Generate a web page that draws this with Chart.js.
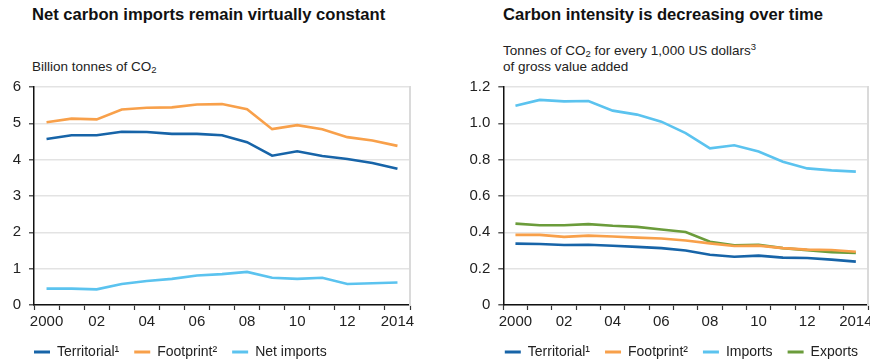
<!DOCTYPE html>
<html>
<head>
<meta charset="utf-8">
<script src="https://cdn.jsdelivr.net/npm/chart.js@4"></script>
<style>
  html, body { margin: 0; padding: 0; width: 870px; height: 363px; overflow: hidden; background: #fff;
    font-family: "Liberation Sans", Arial, sans-serif; color: #1a1a1a; }
  .title { position: absolute; font-weight: bold; font-size: 16.6px; line-height: 20px; white-space: nowrap; color: #111; }
  .sub { position: absolute; font-size: 13.5px; line-height: 16px; white-space: nowrap; color: #222; }
  sub { font-size: 9.5px; vertical-align: -2px; line-height: 0; }
  sup { font-size: 9.5px; vertical-align: 5px; line-height: 0; }
  canvas { position: absolute; }
</style>
</head>
<body>
<div class="title" style="left:32px;top:5px">Net carbon imports remain virtually constant</div>
<div class="sub" style="left:32px;top:59px">Billion tonnes of CO<sub>2</sub></div>
<div class="title" style="left:503px;top:5px">Carbon intensity is decreasing over time</div>
<div class="sub" style="left:503px;top:43px">Tonnes of CO<sub>2</sub> for every 1,000 US dollars<sup>3</sup><br>of gross value added</div>

<canvas id="emissions" width="435" height="299" style="left:0;top:70px"></canvas>
<canvas id="intensity" width="460" height="299" style="left:435px;top:70px"></canvas>

<script>
// Years and the labels shown under the x axis
const years = ['2000','2001','2002','2003','2004','2005','2006','2007','2008','2009','2010','2011','2012','2013','2014'];
const yearTicks = ['2000','','02','','04','','06','','08','','10','','12','','2014'];

// Emissions, billion tonnes of CO2
const territorial = [4.57, 4.67, 4.67, 4.77, 4.76, 4.71, 4.71, 4.67, 4.48, 4.11, 4.23, 4.10, 4.02, 3.91, 3.75];
const footprint   = [5.03, 5.13, 5.11, 5.38, 5.43, 5.44, 5.52, 5.53, 5.39, 4.84, 4.95, 4.84, 4.62, 4.53, 4.38];
const netImports  = [0.45, 0.45, 0.43, 0.58, 0.66, 0.72, 0.81, 0.85, 0.91, 0.75, 0.72, 0.75, 0.58, 0.60, 0.62];
const emissionTicks = ['0','1','2','3','4','5','6'];

// Carbon intensity, tonnes of CO2 per 1,000 US dollars of gross value added
const territorialIntensity = [0.338, 0.336, 0.330, 0.332, 0.326, 0.320, 0.313, 0.300, 0.277, 0.266, 0.272, 0.261, 0.259, 0.250, 0.239];
const footprintIntensity   = [0.386, 0.386, 0.375, 0.382, 0.377, 0.371, 0.366, 0.355, 0.339, 0.325, 0.327, 0.313, 0.305, 0.303, 0.293];
const importsIntensity     = [1.097, 1.129, 1.121, 1.123, 1.070, 1.048, 1.009, 0.946, 0.862, 0.879, 0.845, 0.789, 0.752, 0.741, 0.734];
const exportsIntensity     = [0.448, 0.439, 0.439, 0.445, 0.436, 0.430, 0.416, 0.402, 0.348, 0.329, 0.331, 0.313, 0.302, 0.291, 0.286];
const intensityTicks = ['0','0.2','0.4','0.6','0.8','1.0','1.2'];

const COLORS = { territorial: '#1764a8', footprint: '#f8a04a', imports: '#5bc3ef', exports: '#6b9c3b' };

Chart.defaults.font.family = "'Liberation Sans', Arial, sans-serif";
Chart.defaults.color = '#222';

// Starts the legend row flush with the left edge of the plot area
const legendAlign = {
  id: 'legendAlign',
  afterLayout(chart, args, opts) {
    const lg = chart.legend;
    if (!lg) return;
    const w = lg.right - lg.left;
    lg.left = chart.chartArea.left - lg.options.labels.padding + (opts.offset || 0);
    lg.right = lg.left + w;
  }
};
Chart.register(legendAlign);

function line(label, data, color) {
  return { label, data, borderColor: color, backgroundColor: color, borderWidth: 2.6,
           pointRadius: 0, pointHoverRadius: 0, tension: 0, fill: false };
}

function buildOptions(cfg) {
  return {
    responsive: false,
    animation: false,
    layout: { padding: { left: 0, top: 11, right: 0, bottom: 0 } },
    plugins: {
      tooltip: { enabled: false },
      legendAlign: { offset: cfg.legendOffset },
      legend: {
        position: 'bottom',
        align: 'start',
        labels: {
          boxWidth: 16, boxHeight: 3, padding: 15, color: '#222', font: { size: 14 },
          generateLabels: chart => Chart.defaults.plugins.legend.labels.generateLabels(chart)
            .map(item => Object.assign(item, { lineWidth: 0, fillStyle: item.strokeStyle }))
        }
      }
    },
    scales: {
      x: {
        offset: true,
        grid: { offset: true, drawOnChartArea: false, tickColor: '#333', tickLength: 5, tickWidth: 1.2 },
        border: { color: '#111', width: 1.5 },
        ticks: { autoSkip: false, maxRotation: 0, padding: 3, font: { size: 15 }, color: '#222',
                 callback: (v, i) => yearTicks[i] },
        afterFit: s => { s.height = 25; }
      },
      y: {
        min: 0, max: cfg.max,
        grid: { color: '#e3e3e3', lineWidth: 1.6, tickColor: '#333', tickLength: 5, tickWidth: 1.2 },
        border: { color: '#111', width: 1.5 },
        ticks: { stepSize: cfg.step, padding: 8, font: { size: 15 }, color: '#222',
                 callback: (v, i) => cfg.tickLabels[i] },
        afterFit: s => { s.width = cfg.axisWidth; }
      },
      frame: {
        position: 'right',
        grid: { drawOnChartArea: false, drawTicks: false },
        border: { color: '#dadada', width: 2 },
        ticks: { display: false },
        afterFit: s => { s.width = cfg.rightGap; }
      }
    }
  };
}

new Chart(document.getElementById('emissions'), {
  type: 'line',
  data: {
    labels: years,
    datasets: [
      line('Territorial\u00B9', territorial, COLORS.territorial),
      line('Footprint\u00B2', footprint, COLORS.footprint),
      line('Net imports', netImports, COLORS.imports)
    ]
  },
  options: buildOptions({ axisWidth: 34, rightGap: 25, max: 6, step: 1, tickLabels: emissionTicks, legendOffset: 0 })
});

new Chart(document.getElementById('intensity'), {
  type: 'line',
  data: {
    labels: years,
    datasets: [
      line('Territorial\u00B9', territorialIntensity, COLORS.territorial),
      line('Footprint\u00B2', footprintIntensity, COLORS.footprint),
      line('Imports', importsIntensity, COLORS.imports),
      line('Exports', exportsIntensity, COLORS.exports)
    ]
  },
  options: buildOptions({ axisWidth: 68.3, rightGap: 27, max: 1.2, step: 0.2, tickLabels: intensityTicks, legendOffset: 1.5 })
});
</script>
</body>
</html>
